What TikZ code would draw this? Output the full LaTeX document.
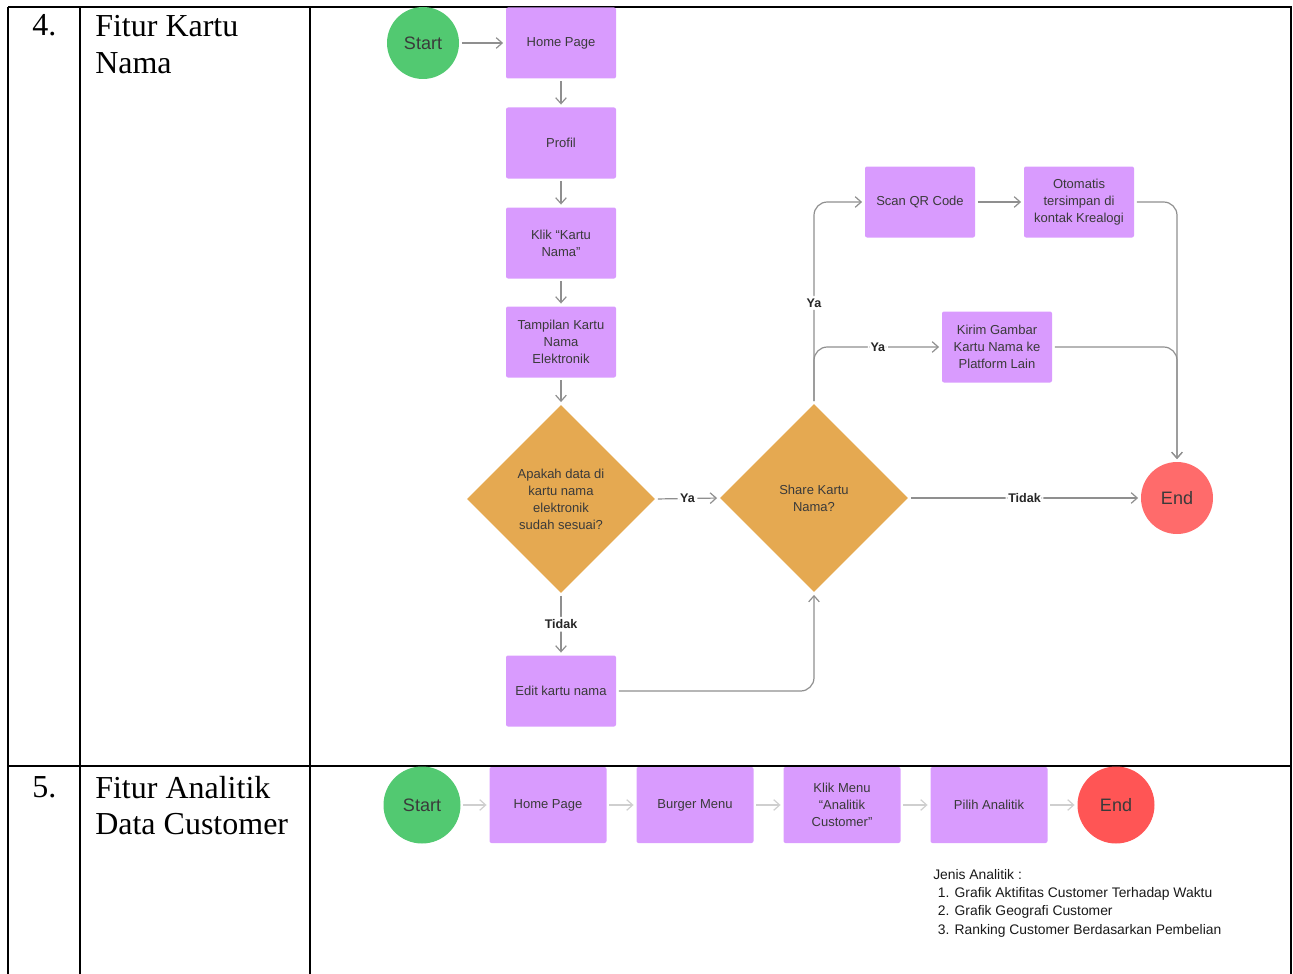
\documentclass[tikz,border=0pt]{standalone}
\usepackage{fontspec}
\setmainfont{Liberation Serif}
\newfontfamily\flowfont{Liberation Sans}
\usetikzlibrary{shapes.geometric,arrows.meta}
\definecolor{boxpurple}{HTML}{D99BFE}
\definecolor{dmorange}{HTML}{E5A951}
\definecolor{stgreen}{HTML}{52C971}
\definecolor{endred}{HTML}{FF6B6B}
\definecolor{endredb}{HTML}{FF5555}
\definecolor{txtgray}{HTML}{3A3A3A}
\definecolor{conngray}{HTML}{8F8F8F}
\definecolor{connlight}{HTML}{CFCFCF}
\tikzset{
  tbl/.style={line width=2pt, black},
  cell/.style={font=\fontsize{24}{27}\selectfont, anchor=base west, inner sep=0pt},
  proc/.style={rectangle, rounded corners=1.5pt, fill=boxpurple, draw=none, minimum width=82.5pt, minimum height=53.25pt, align=center, inner sep=1pt, text=txtgray, font=\flowfont\fontsize{9.75}{12.75}\selectfont},
  procb/.style={proc, minimum width=87.75pt, minimum height=57pt},
  dec/.style={diamond, aspect=1, fill=dmorange, draw=none, minimum width=141pt, minimum height=141pt, inner sep=0pt, align=center, text=txtgray, font=\flowfont\fontsize{9.75}{12.75}\selectfont},
  startc/.style={circle, fill=stgreen, draw=none, minimum size=54pt, inner sep=0pt, text=txtgray, font=\flowfont\fontsize{13.5}{15}\selectfont},
  endc/.style={circle, fill=endred, draw=none, minimum size=54pt, inner sep=0pt, text=txtgray, font=\flowfont\fontsize{13.5}{15}\selectfont},
  conn/.style={draw=conngray, line width=0.9pt, -{Straight Barb[length=4.5pt,width=8pt]}, shorten >=2pt, shorten <=2pt, rounded corners=10pt},
  connl/.style={conn, draw=connlight},
  lbl/.style={fill=white, inner sep=2pt, text=black!85, font=\flowfont\bfseries\fontsize{9.4}{11}\selectfont},
}
\begin{document}
\begin{tikzpicture}[x=0.75pt,y=-0.75pt]
\useasboundingbox (0,0) rectangle (1293,974);
% table
\draw[tbl] (8,7) -- (1292,7);
\draw[tbl] (8,766) -- (1292,766);
\draw[tbl] (8,7) -- (8,974);
\draw[tbl] (80,7) -- (80,974);
\draw[tbl] (310,7) -- (310,974);
\draw[tbl] (1291,7) -- (1291,974);
\node[cell] (n4) at (32,36) {4.};
\node[cell] (t4a) at (95,37) {Fitur Kartu};
\node[cell] (t4b) at (95,74) {Nama};
\node[cell] (n5) at (32,797) {5.};
\node[cell] (t5a) at (95,798) {Fitur Analitik};
\node[cell] (t5b) at (95,834) {Data Customer};

% flow 4
\node[startc] (s1) at (423,43) {Start};
\node[proc] (home) at (561,43) {Home Page};
\node[proc] (prof) at (561,143) {Profil};
\node[proc] (klik) at (561,243) {Klik “Kartu\\Nama”};
\node[proc] (tamp) at (561,342) {Tampilan Kartu\\Nama\\Elektronik};
\node[dec] (d1) at (561,499) {Apakah data di\\kartu nama\\elektronik\\sudah sesuai?};
\node[dec] (d2) at (814,498) {Share Kartu\\Nama?};
\node[proc] (edit) at (561,691) {Edit kartu nama};
\node[proc] (scan) at (920,202) {Scan QR Code};
\node[proc] (oto) at (1079,202) {Otomatis\\tersimpan di\\kontak Krealogi};
\node[proc] (kirim) at (997,347) {Kirim Gambar\\Kartu Nama ke\\Platform Lain};
\node[endc] (e1) at (1177,498) {End};

\draw[conn] (s1) -- (home);
\draw[conn] (home) -- (prof);
\draw[conn] (prof) -- (klik);
\draw[conn] (klik) -- (tamp);
\draw[conn] (tamp) -- (d1);
\draw[conn] (d1.east) -- node[lbl] {Ya} (d2.west);
\draw[conn] (d1.south) -- node[lbl] {Tidak} (edit.north);
\draw[conn] (edit.east) -| (d2.south);
\draw[conn] (d2.north) |- node[lbl, pos=0.25] {Ya} (scan.west);
\draw[conn] (d2.north) |- node[lbl, pos=0.75] {Ya} (kirim.west);
\draw[conn] (scan) -- (oto);
\draw[conn] (oto.east) -| (e1.north);
\draw[conn] (kirim.east) -| (e1.north);
\draw[conn] (d2.east) -- node[lbl] {Tidak} (e1.west);

% flow 5
\node[startc, minimum size=57.75pt] (s2) at (422,805) {Start};
\node[procb] (home2) at (548,805) {Home Page};
\node[procb] (burg) at (695,805) {Burger Menu};
\node[procb] (klik2) at (842,805) {Klik Menu\\“Analitik\\Customer”};
\node[procb] (pilih) at (989,805) {Pilih Analitik};
\node[endc, fill=endredb, minimum size=57.75pt] (e2) at (1116,805) {End};
\draw[connl] (s2) -- (home2);
\draw[connl] (home2) -- (burg);
\draw[connl] (burg) -- (klik2);
\draw[connl] (klik2) -- (pilih);
\draw[connl] (pilih) -- (e2);
\node[anchor=north west, align=left, inner sep=0pt, text=black!90, font=\flowfont\fontsize{10.4}{13.7}\selectfont] (list) at (933,869)
 {Jenis Analitik :\\
  \hspace{3.5pt}1. Grafik Aktifitas Customer Terhadap Waktu\\
  \hspace{3.5pt}2. Grafik Geografi Customer\\
  \hspace{3.5pt}3. Ranking Customer Berdasarkan Pembelian};
\end{tikzpicture}
\end{document}
